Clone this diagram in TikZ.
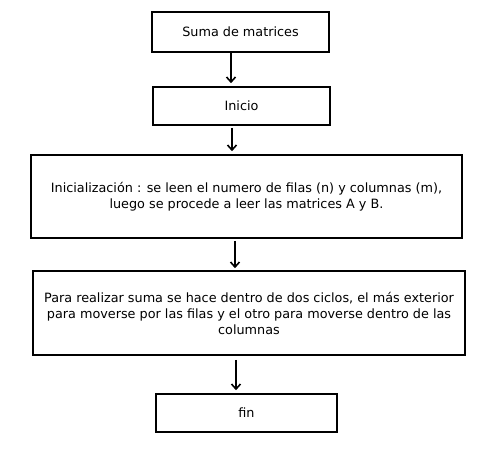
\documentclass[tikz,border=0pt]{standalone}
\usepackage{fontspec}
\setmainfont{DejaVu Sans}
\usetikzlibrary{positioning, arrows.meta}

\tikzset{
  caja/.style={draw, line width=1.6pt, align=center, font=\fontsize{12.8}{16}\selectfont},
  flecha/.style={-{Straight Barb[length=5pt, width=9pt]}, line width=1.6pt}
}

\begin{document}
\begin{tikzpicture}[x=1pt, y=-1pt]
        \useasboundingbox (0, 0) rectangle (494, 449);
        \node[caja, minimum width=177pt, minimum height=40pt] (suma) at (240.5, 32) {Suma de matrices};
        \node[caja, minimum width=177pt, minimum height=38pt] (inicio) at (241.5, 106) {Inicio};
        \node[caja, minimum width=431pt, minimum height=83pt] (inic) at (246.5, 196.5) {Inicialización : se leen el numero de filas (n) y columnas (m),\\ luego se procede a leer las matrices A y B.};
        \node[caja, minimum width=432pt, minimum height=84pt] (ciclos) at (249, 313) {Para realizar suma se hace dentro de dos ciclos, el más exterior\\ para moverse por las filas y el otro para moverse dentro de las\\ columnas};
        \node[caja, minimum width=181pt, minimum height=38pt] (fin) at (246.5, 413) {fin};

        \draw[flecha] ([xshift=-9.5pt]suma.south) -- ([xshift=-9.5pt, yshift=3pt]suma.south |- inicio.north);
        \draw[flecha] ([xshift=-9.5pt, yshift=-2pt]inicio.south) -- ([xshift=-9.5pt, yshift=3pt]inicio.south |- inic.north);
        \draw[flecha] ([xshift=-11.5pt, yshift=-2pt]inic.south) -- ([xshift=-11.5pt, yshift=2pt]inic.south |- ciclos.north);
        \draw[flecha] ([xshift=-13pt, yshift=-4pt]ciclos.south) -- ([xshift=-13pt, yshift=3pt]ciclos.south |- fin.north);
    \end{tikzpicture}
\end{document}
